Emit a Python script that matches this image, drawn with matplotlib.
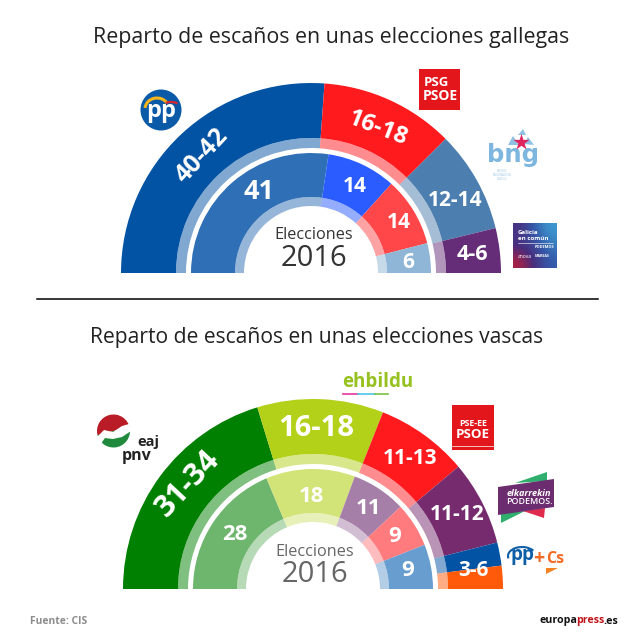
import matplotlib
matplotlib.use("Agg")
import matplotlib.pyplot as plt
import numpy as np
from matplotlib.patches import Circle, Polygon, Rectangle, Wedge, Arc

plt.rcParams['font.family'] = ['Open Sans', 'DejaVu Sans']

gal_labels = ['40-42', '16-18', '12-14', '4-6']
gal_seats = [39.2, 17.1, 13.0, 5.7]
gal_labels_2016 = ['41', '14', '14', '6']
gal_seats_2016 = [41, 14, 14, 6]

# Basque Country
eus_labels = ['31-34', '16-18', '11-13', '11-12', '3-6', '']
eus_seats = [30.4, 16.1, 11.8, 10.8, 2.95, 2.95]
eus_labels_2016 = ['28', '18', '11', '9', '9']
eus_seats_2016 = [28, 18, 11, 9, 9]

# colours
gal_colors = ['#0353A4', '#FF1A1E', '#4C7FAF', '#652D78']
gal_colors_2016 = ['#2E6FB5', '#2B5CFF', '#FF4649', '#8FB6D6']
eus_colors = ['#008000', '#B2D118', '#FF1A1E', '#752B6E', '#0353A4', '#FF5A0A']
eus_colors_2016 = ['#6EB56E', '#D2E377', '#A67FA8', '#FF7B7E', '#689DD0']


def Y(y):
    return 640 - y


def half_ring(ax, seats, colors, cx, cy, r_out, r_in, alpha=1.0):
    # hidden second half keeps the ring on the top half only
    vals = list(seats) + [sum(seats)]
    cols = list(colors) + ['none']
    wedges, _ = ax.pie(vals, colors=cols, startangle=180, counterclock=False,
                       radius=r_out, center=(cx, Y(cy)), frame=True,
                       wedgeprops=dict(width=r_out - r_in, linewidth=0))
    for w in wedges[:-1]:
        w.set_alpha(alpha)


def chart(ax, cx, cy, seats, colors, seats_2016, colors_2016):
    half_ring(ax, seats, colors, cx, cy, 190, 135)
    half_ring(ax, seats, colors, cx, cy, 135, 125, alpha=0.5)
    half_ring(ax, seats_2016, colors_2016, cx, cy, 120, 76)
    half_ring(ax, seats_2016, colors_2016, cx, cy, 76, 67, alpha=0.5)


def label(ax, x, y, s, size, rot=0, color='white', weight='bold', **kw):
    ax.text(x, Y(y), s, fontsize=size, rotation=rot, color=color, weight=weight,
            ha='center', va='center', rotation_mode='anchor', **kw)


fig = plt.figure(figsize=(6.4, 6.4), dpi=100, facecolor='white')
ax = fig.add_axes([0, 0, 1, 1])

chart(ax, 311, 273, gal_seats, gal_colors, gal_seats_2016, gal_colors_2016)
chart(ax, 313, 589, eus_seats, eus_colors, eus_seats_2016, eus_colors_2016)

# titles and divider
label(ax, 331, 38, 'Reparto de escaños en unas elecciones gallegas', 15.4, color='#222222', weight='normal')
label(ax, 317, 338, 'Reparto de escaños en unas elecciones vascas', 15.2, color='#222222', weight='normal')
ax.plot([37, 598], [Y(299), Y(299)], color='black', lw=1.1)

# Galicia labels
gal_pos = [(202, 156, 47), (378, 129, -21), (455, 200, 0), (472, 255, 0)]
for s, (x, y, r), size in zip(gal_labels, gal_pos, [18, 17, 15, 15.5]):
    label(ax, x, y, s, size, r)
gal_pos_2016 = [(259, 192), (355, 187), (399, 223), (408, 263)]
for s, (x, y), size in zip(gal_labels_2016, gal_pos_2016, [19.5, 15, 15, 15]):
    label(ax, x, y, s, size)
label(ax, 314, 235, 'Elecciones', 11.7, color='#333333', weight='normal')
label(ax, 314, 258, '2016', 21, color='#333333', weight='normal')

# Basque labels
eus_pos = [(188, 484, 47), (316, 429, 0), (410, 459, 0), (457, 514, 0), (473, 571, 0)]
for s, (x, y, r), size in zip(eus_labels, eus_pos, [22, 21, 15, 15, 15]):
    label(ax, x, y, s, size, r)
eus_pos_2016 = [(235, 534), (311, 496), (368, 509), (395, 537), (408, 571)]
for s, (x, y), size in zip(eus_labels_2016, eus_pos_2016, [16, 16, 16, 16, 16]):
    label(ax, x, y, s, size)
label(ax, 315, 552, 'Elecciones', 11.7, color='#666666', weight='normal')
label(ax, 315, 574, '2016', 21, color='#666666', weight='normal')

# PP logo
ax.add_patch(Circle((161, Y(110)), 20.5, color='#0A5AA8', lw=0))
ax.add_patch(Arc((157, Y(109)), 24, 22, theta1=30, theta2=175, color='#F5B51B', lw=2.2))
ax.add_patch(Arc((171, Y(106)), 16, 8, theta1=20, theta2=150, color='#D9262C', lw=1.6))
label(ax, 161, 111, 'pp', 17, color='white')

# PSG-PSOE logo
ax.add_patch(Rectangle((419, Y(110)), 41, 41, color='#E3161B', lw=0))
label(ax, 436, 83, 'PSG', 9.5, color='white')
label(ax, 440, 96, 'PSOE', 10, color='white')

# BNG logo
label(ax, 513, 155, 'bng', 17.5, color='#7DB7E0', family='DejaVu Sans')
ax.add_patch(Polygon([(508, Y(145)), (513, Y(136)), (519, Y(145))], color='#8FC1E3', lw=0))
ax.add_patch(Polygon([(518, Y(135)), (523, Y(129)), (526, Y(135))], color='#8FC1E3', lw=0))
ax.add_patch(Polygon([(524, Y(144)), (528, Y(137)), (534, Y(145))], color='#8FC1E3', lw=0))
ax.scatter([521], [Y(142)], marker='*', s=150, color='#E0245E', lw=0, zorder=4)
label(ax, 502, 175, 'BLOQUE\nNACIONALISTA\nGALEGO', 2, color='#9CC5E3', weight='normal', linespacing=1.1)

# Galicia en comun logo
gec_cmap = matplotlib.colors.LinearSegmentedColormap.from_list(
    'gec', ['#B02040', '#4A2C7C', '#3558A8', '#3D9BD0'])
ax.imshow(np.array([[0.0, 0.55, 1.0], [0.0, 0.25, 0.75], [-0.6, 0.0, 0.5]]),
          extent=(513, 557, Y(268), Y(223)), cmap=gec_cmap, interpolation='bicubic', zorder=3)
ax.text(518, Y(233), 'Galicia', fontsize=4.4, color='white', weight='bold', va='center', zorder=4)
ax.text(518, Y(239), 'en común', fontsize=4.4, color='white', weight='bold', va='center', zorder=4)
ax.plot([518, 553], [Y(243), Y(243)], color='white', lw=0.4, zorder=4)
ax.text(535, Y(247), 'PODEMOS', fontsize=2.8, color='white', weight='bold', va='center', zorder=4)
ax.text(518, Y(256), 'anova', fontsize=3.6, color='white', va='center', zorder=4)
ax.text(535, Y(256), 'MAREAS', fontsize=2.6, color='white', weight='bold', va='center', zorder=4)

# EAJ-PNV logo
ax.add_patch(Wedge((113.5, Y(431)), 16.5, 10, 195, color='#B91C26', lw=0))
ax.add_patch(Wedge((113.5, Y(431)), 16.5, 195, 370, color='#1F8A3C', lw=0))
ax.add_patch(Polygon([(97, Y(437)), (104, Y(430)), (113, Y(432)), (122, Y(426)), (129, Y(424)),
                      (131, Y(431)), (122, Y(437)), (113, Y(439)), (105, Y(438)), (100, Y(445))],
                     color='white', lw=0, zorder=3))
label(ax, 148, 442, 'eaj', 10.5, color='#222222')
label(ax, 137, 456, 'pnv', 11.5, color='#222222')

# EH Bildu logo
label(ax, 378, 382, 'ehbildu', 13.5, color='#96C11F')
ax.plot([343, 358], [Y(394), Y(394)], color='#E5369A', lw=1.2)
ax.plot([358, 375], [Y(394), Y(394)], color='#4CC3E8', lw=1.2)
ax.plot([375, 388], [Y(394), Y(394)], color='#7AC142', lw=1.2)

# PSE-EE logo
ax.add_patch(Rectangle((452, Y(450)), 42, 45, color='#E3161B', lw=0))
label(ax, 473, 423, 'PSE-EE', 6.4, color='white')
label(ax, 473, 435, 'PSOE', 9.6, color='white')
ax.plot([452, 494], [Y(446), Y(446)], color='white', lw=0.5)

# Elkarrekin Podemos logo
ax.add_patch(Polygon([(515, Y(483)), (547, Y(472)), (547, Y(481))], color='#2FAE6E', lw=0))
ax.add_patch(Polygon([(501, Y(513)), (501, Y(523)), (525, Y(511))], color='#2FAE6E', lw=0))
ax.add_patch(Polygon([(523, Y(511)), (545, Y(508)), (544, Y(518))], color='#DE2B4E', lw=0))
ax.add_patch(Polygon([(498, Y(487)), (554, Y(479)), (554, Y(507)), (498, Y(515))], color='#6C2C70', lw=0, zorder=3))
label(ax, 529, 493, 'elkarrekin', 6.6, color='white', style='italic', zorder=4)
label(ax, 529, 501, 'PODEMOS.', 6.4, color='white', weight='semibold', zorder=4)

# PP+Cs logo
label(ax, 522, 555, 'pp', 13.5, color='#0F5FA8')
ax.add_patch(Arc((522, Y(556)), 28, 18, theta1=25, theta2=190, color='#0F5FA8', lw=1.5))
label(ax, 539, 559, '+', 14, color='#F26A21')
label(ax, 555, 559, 'Cs', 11.5, color='#F26A21')
ax.add_patch(Polygon([(546, Y(568)), (558, Y(568)), (546, Y(574))], color='#F58220', lw=0))

ax.set_xlim(0, 640)
ax.set_ylim(0, 640)
ax.set_aspect('equal')
ax.axis('off')

# footer, the europapress parts are laid side by side from their real widths
ax.text(30, Y(621), 'Fuente: CIS', fontsize=7.4, color='#8C8C8C', weight='bold', va='center')
x_pos = 540
renderer = fig.canvas.get_renderer()
for part, col in zip(['europa', 'press', '.es'], ['#111111', '#C0141B', '#111111']):
    t = ax.text(x_pos, Y(621), part, fontsize=7.7, color=col, weight='bold', va='center')
    x_pos = t.get_window_extent(renderer).x1 - 1.5

fig.savefig('out.png', dpi=100)
